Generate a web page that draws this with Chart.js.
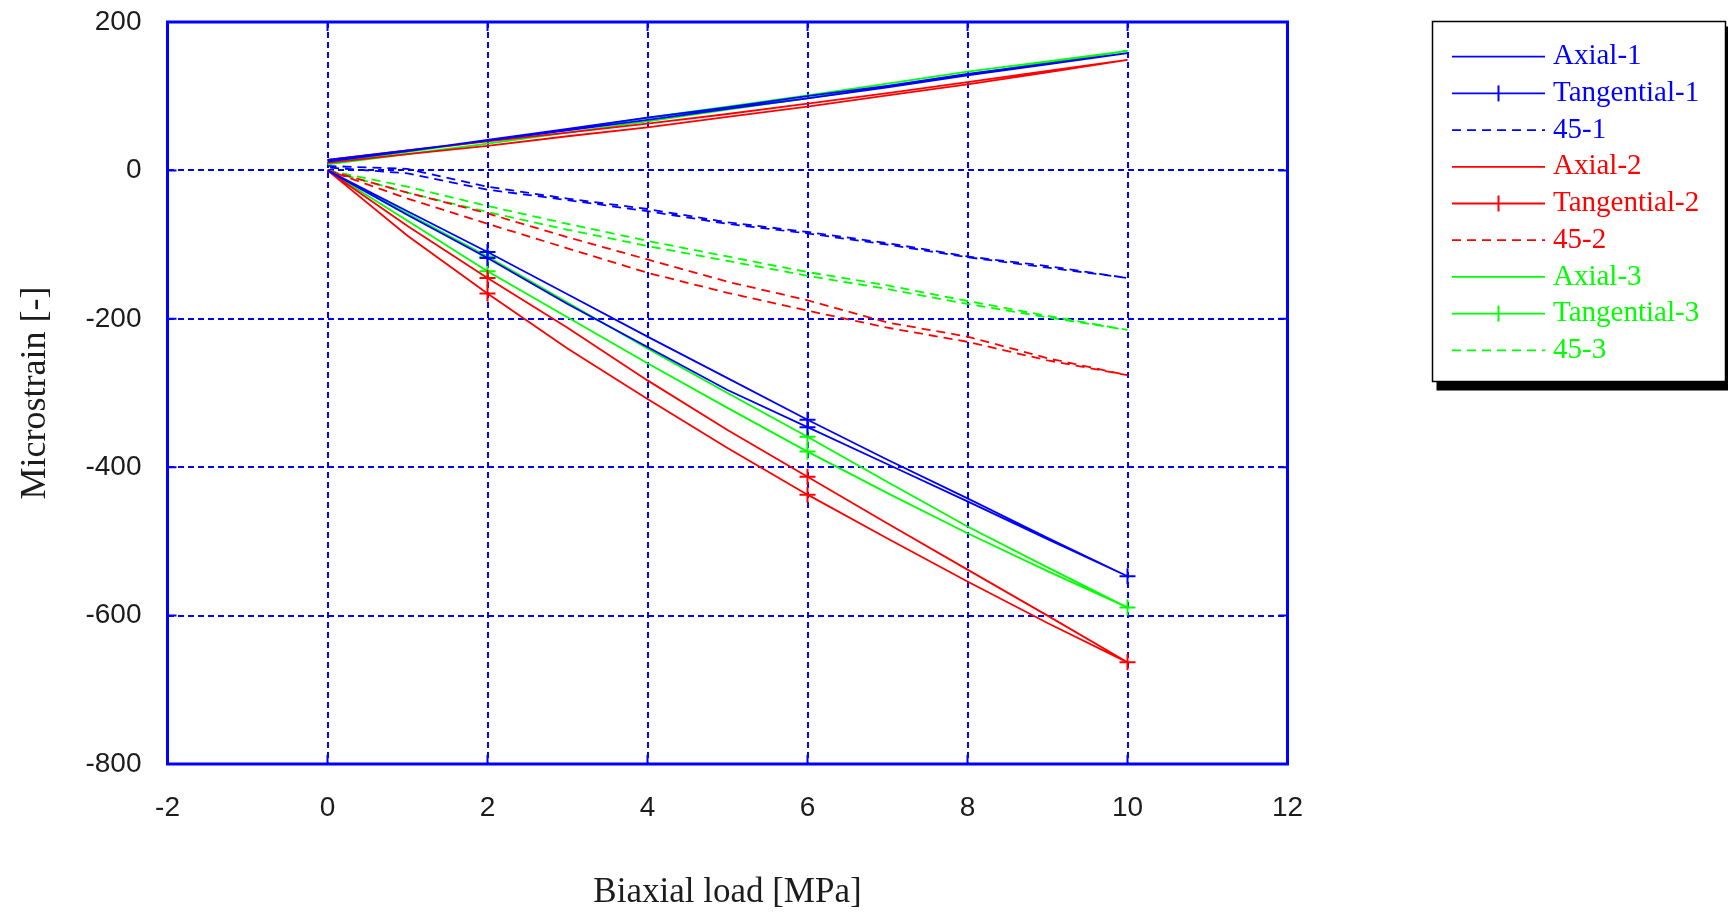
<!DOCTYPE html>
<html>
<head>
<meta charset="utf-8">
<title>Microstrain vs biaxial load</title>
<script src="https://cdn.jsdelivr.net/npm/chart.js@4.4.1/dist/chart.umd.min.js"></script>
<style>
  html, body { margin: 0; padding: 0; background: #ffffff; }
  #wrap { position: relative; width: 1728px; height: 917px; }
</style>
</head>
<body>
<div id="wrap"><canvas id="chart"></canvas></div>
<script>
// Load steps (MPa); each gauge is read going up 0 -> 10 and coming back 10 -> 0
const loads = [0, 1, 2, 3, 4, 5, 6, 7, 8, 9, 10];

// Axial gauges (loading / unloading, listed by load)
const axial1Loading   = [12, 26, 41, 56, 71, 85, 100, 114, 130, 144, 158];
const axial1Unloading = [14, 27, 40, 54, 68, 83, 97, 112, 128, 143, 158];
const axial2Loading   = [14, 27, 39, 51, 63, 76, 90, 104, 119, 134, 149];
const axial2Unloading = [10, 22, 33, 46, 58, 72, 86, 101, 116, 132, 149];
const axial3Loading   = [10, 25, 40, 55, 71, 86, 101, 117, 133, 147, 161];
const axial3Unloading = [8, 22, 36, 51, 66, 82, 97, 113, 129, 145, 161];

// Tangential gauges
const tang1Loading   = [0, -55, -110, -167, -224, -280, -336, -390, -442, -495, -547];
const tang1Unloading = [0, -60, -118, -180, -238, -296, -346, -396, -446, -497, -547];
const tang2Loading   = [0, -75, -145, -212, -283, -350, -413, -476, -538, -600, -663];
const tang2Unloading = [0, -88, -166, -240, -308, -374, -437, -496, -554, -610, -663];
const tang3Loading   = [0, -58, -116, -178, -240, -300, -359, -420, -480, -535, -589];
const tang3Unloading = [0, -68, -136, -198, -260, -320, -379, -435, -489, -540, -589];

// 45 degree gauges
const diag1Loading   = [6, 2, -22, -38, -52, -70, -83, -98, -116, -129, -145];
const diag1Unloading = [4, -4, -26, -40, -55, -72, -85, -100, -117, -131, -145];
const diag2Loading   = [0, -30, -58, -90, -120, -150, -175, -205, -224, -253, -276];
const diag2Unloading = [0, -38, -72, -105, -138, -165, -189, -212, -231, -256, -276];
const diag3Loading   = [0, -22, -48, -72, -95, -116, -137, -155, -176, -196, -215];
const diag3Unloading = [0, -30, -56, -80, -102, -122, -142, -160, -180, -198, -215];

// Load stages marked on the tangential curves
const markerLoads = [2, 6, 10];

// Axis ticks
const xTicks = [-2, 0, 2, 4, 6, 8, 10, 12];
const yTicks = [200, 0, -200, -400, -600, -800];

const seriesLabels = ['Axial-1', 'Tangential-1', '45-1', 'Axial-2', 'Tangential-2', '45-2', 'Axial-3', 'Tangential-3', '45-3'];

const BLUE = '#0000ff', RED = '#ff0000', GREEN = '#00ff00';
const TEXT = '#1c1c1c';

// Build a closed loading/unloading path: up through the loads, then back down
function loop(loading, unloading) {
  const up = loads.map((x, i) => ({ x, y: loading[i] }));
  const down = loads.map((x, i) => ({ x, y: unloading[i] })).reverse().slice(1);
  return up.concat(down);
}

function series(label, color, loading, unloading, kind) {
  return {
    label,
    data: loop(loading, unloading),
    borderColor: color,
    backgroundColor: color,
    borderWidth: 1.8,
    borderDash: kind === 'diag' ? [9, 6] : [],
    fill: false,
    tension: 0,
    pointStyle: 'cross',
    pointBorderColor: color,
    pointBorderWidth: 2,
    pointRadius: ctx => (kind === 'tang' && ctx.raw && markerLoads.includes(ctx.raw.x)) ? 8 : 0,
    pointHoverRadius: 0,
    marker: kind === 'tang'
  };
}

const datasets = [
  series(seriesLabels[0], BLUE,  axial1Loading, axial1Unloading, 'axial'),
  series(seriesLabels[1], BLUE,  tang1Loading,  tang1Unloading,  'tang'),
  series(seriesLabels[2], BLUE,  diag1Loading,  diag1Unloading,  'diag'),
  series(seriesLabels[3], RED,   axial2Loading, axial2Unloading, 'axial'),
  series(seriesLabels[4], RED,   tang2Loading,  tang2Unloading,  'tang'),
  series(seriesLabels[5], RED,   diag2Loading,  diag2Unloading,  'diag'),
  series(seriesLabels[6], GREEN, axial3Loading, axial3Unloading, 'axial'),
  series(seriesLabels[7], GREEN, tang3Loading,  tang3Unloading,  'tang'),
  series(seriesLabels[8], GREEN, diag3Loading,  diag3Unloading,  'diag')
];

// Solid plot frame plus short inward tick marks on all four sides
const framePlugin = {
  id: 'plotFrame',
  afterDatasetsDraw(chart) {
    const { ctx, chartArea: a, scales } = chart;
    const len = 9;
    ctx.save();
    ctx.strokeStyle = BLUE;
    ctx.lineWidth = 2;
    ctx.beginPath();
    scales.x.ticks.forEach(t => {
      const px = scales.x.getPixelForValue(t.value);
      ctx.moveTo(px, a.bottom); ctx.lineTo(px, a.bottom - len);
      ctx.moveTo(px, a.top);    ctx.lineTo(px, a.top + len);
    });
    scales.y.ticks.forEach(t => {
      const py = scales.y.getPixelForValue(t.value);
      ctx.moveTo(a.left, py);  ctx.lineTo(a.left + len, py);
      ctx.moveTo(a.right, py); ctx.lineTo(a.right - len, py);
    });
    ctx.stroke();
    ctx.lineWidth = 3;
    ctx.strokeRect(a.left, a.top, a.right - a.left, a.bottom - a.top);
    ctx.restore();
  }
};

// Boxed legend with drop shadow, drawn from the datasets themselves
const boxLegendPlugin = {
  id: 'boxLegend',
  afterDraw(chart) {
    const { ctx } = chart;
    const box = { x: 1432.5, y: 21.5, w: 293, h: 360 };
    const rowTop = 56.7, rowStep = 36.7;
    const sx0 = 1452, sx1 = 1545, tx = 1553;
    ctx.save();
    ctx.fillStyle = '#000000';
    ctx.fillRect(box.x + 4, box.y + 5, box.w + 4, box.h + 4);
    ctx.fillStyle = '#ffffff';
    ctx.fillRect(box.x, box.y, box.w, box.h);
    ctx.strokeStyle = '#000000';
    ctx.lineWidth = 1.5;
    ctx.strokeRect(box.x, box.y, box.w, box.h);

    ctx.font = '29px "Liberation Serif", "Times New Roman", serif';
    ctx.textBaseline = 'middle';
    ctx.textAlign = 'left';
    chart.data.datasets.forEach((ds, i) => {
      const y = rowTop + i * rowStep;
      ctx.strokeStyle = ds.borderColor;
      ctx.lineWidth = 1.8;
      ctx.setLineDash(ds.borderDash || []);
      ctx.beginPath();
      ctx.moveTo(sx0, y); ctx.lineTo(sx1, y);
      ctx.stroke();
      ctx.setLineDash([]);
      if (ds.marker) {
        const cx = (sx0 + sx1) / 2;
        ctx.lineWidth = 2;
        ctx.beginPath();
        ctx.moveTo(cx, y - 8); ctx.lineTo(cx, y + 8);
        ctx.stroke();
      }
      ctx.fillStyle = ds.borderColor;
      ctx.fillText(ds.label, tx, y);
    });
    ctx.restore();
  }
};

const gridStyle = {
  color: BLUE,
  lineWidth: 2,
  drawTicks: false
};

new Chart(document.getElementById('chart'), {
  type: 'line',
  data: { datasets },
  options: {
    responsive: true,
    maintainAspectRatio: false,
    animation: false,
    events: [],
    layout: { padding: { left: 0, right: 440.5, top: 22, bottom: 0 } },
    plugins: {
      legend: { display: false },
      tooltip: { enabled: false },
      title: { display: false }
    },
    scales: {
      x: {
        type: 'linear',
        min: xTicks[0],
        max: xTicks[xTicks.length - 1],
        afterBuildTicks: s => { s.ticks = xTicks.map(v => ({ value: v })); },
        afterFit: s => { s.height = 153; s.paddingLeft = 0; s.paddingRight = 0; },
        grid: gridStyle,
        border: { display: false, dash: [6, 4] },
        ticks: {
          padding: 27,
          color: TEXT,
          font: { family: '"Liberation Sans", Arial, sans-serif', size: 28 },
          maxRotation: 0
        },
        title: {
          display: true,
          text: 'Biaxial load [MPa]',
          color: TEXT,
          font: { family: '"Liberation Serif", "Times New Roman", serif', size: 35 },
          padding: { top: 0, bottom: 3 }
        }
      },
      y: {
        type: 'linear',
        min: yTicks[yTicks.length - 1],
        max: yTicks[0],
        afterBuildTicks: s => { s.ticks = yTicks.slice().reverse().map(v => ({ value: v })); },
        afterFit: s => { s.width = 167.5; s.paddingTop = 0; s.paddingBottom = 0; },
        grid: gridStyle,
        border: { display: false, dash: [6, 4] },
        ticks: {
          padding: 26,
          color: TEXT,
          font: { family: '"Liberation Sans", Arial, sans-serif', size: 28 }
        },
        title: {
          display: true,
          text: 'Microstrain [-]',
          color: TEXT,
          font: { family: '"Liberation Serif", "Times New Roman", serif', size: 36 },
          padding: { top: 14, bottom: 0 }
        }
      }
    }
  },
  plugins: [framePlugin, boxLegendPlugin]
});
</script>
</body>
</html>
